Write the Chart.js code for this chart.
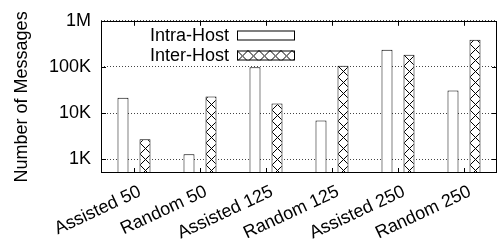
<!DOCTYPE html>
<html>
<head>
<meta charset="utf-8">
<script src="https://cdn.jsdelivr.net/npm/chart.js@4/dist/chart.umd.min.js"></script>
<style>
  html, body { margin: 0; padding: 0; background: #fff; }
  #wrap { width: 502px; height: 242px; }
</style>
</head>
<body>
<div id="wrap"><canvas id="grafico"></canvas></div>
<script>
// categorias y valores
const categorias = ['Assisted 50', 'Random 50', 'Assisted 125', 'Random 125', 'Assisted 250', 'Random 250'];
const intraHost = [21300, 1280, 98000, 6900, 235000, 30700];
const interHost = [2700, 22800, 16000, 106000, 183000, 386000];
const ticksY = [1000, 10000, 100000, 1000000];
const etiquetasY = ['1K', '10K', '100K', '1M'];
const nombresSeries = ['Intra-Host', 'Inter-Host'];

const FUENTE = 'Liberation Sans, Arial, sans-serif';
const TAM = 18;
const CAT_PCT = 0.667;
const BAR_PCT = 0.5;

// patron de cuadricula en X (cross-hatch)
function crearTrama(ctx, w, h) {
  const c = document.createElement('canvas');
  c.width = w; c.height = h;
  const g = c.getContext('2d');
  g.fillStyle = '#fff';
  g.fillRect(0, 0, w, h);
  g.strokeStyle = '#000';
  g.lineWidth = 1;
  g.beginPath();
  g.moveTo(0, 0); g.lineTo(w, h);
  g.moveTo(w, 0); g.lineTo(0, h);
  g.stroke();
  return ctx.createPattern(c, 'repeat');
}

function tramaBarra(c) {
  const chart = c.chart;
  const xs = chart.scales.x;
  if (!xs || c.dataIndex === undefined || !(xs.width > 0)) return '#fff';
  const cat = xs.width / categorias.length;
  const w = Math.max(2, Math.round(cat * CAT_PCT / 2 * BAR_PCT));
  const centro = xs.getPixelForValue(c.dataIndex) + cat * CAT_PCT / 4;
  const izq = Math.round(centro - w / 2);
  const p = crearTrama(chart.ctx, w, 11);
  p.setTransform(new DOMMatrix().translate(izq, 0));
  return p;
}

// marco y marcas interiores estilo gnuplot
const marco = {
  id: 'marco',
  afterDatasetsDraw(chart) {
    const { ctx, chartArea: a, scales } = chart;
    ctx.save();
    ctx.strokeStyle = '#000';
    ctx.lineWidth = 1;
    ctx.strokeRect(Math.round(a.left) + 0.5, Math.round(a.top) + 0.5,
      Math.round(a.right - a.left) - 1, Math.round(a.bottom - a.top) - 1);
    ctx.beginPath();
    ticksY.forEach(v => {
      const y = Math.round(scales.y.getPixelForValue(v)) + 0.5;
      ctx.moveTo(a.left, y); ctx.lineTo(a.left + 5, y);
      ctx.moveTo(a.right, y); ctx.lineTo(a.right - 5, y);
    });
    categorias.forEach((_, i) => {
      const x = Math.round(scales.x.getPixelForValue(i)) + 0.5;
      ctx.moveTo(x, a.top); ctx.lineTo(x, a.top + 5);
      ctx.moveTo(x, a.bottom); ctx.lineTo(x, a.bottom - 5);
    });
    ctx.stroke();
    ctx.restore();
  }
};

// leyenda dentro del area, texto a la izquierda de la caja
const leyenda = {
  id: 'leyenda',
  afterDatasetsDraw(chart) {
    const ctx = chart.ctx;
    ctx.save();
    ctx.font = TAM + 'px ' + FUENTE;
    ctx.textAlign = 'right';
    ctx.textBaseline = 'middle';
    const filas = [35.5, 55.5];
    nombresSeries.forEach((nombre, i) => {
      const y = filas[i];
      ctx.fillStyle = '#000';
      ctx.fillText(nombre, 229, y + 1);
      if (i === 0) {
        ctx.fillStyle = '#fff';
      } else {
        const p = crearTrama(ctx, 11, 11);
        p.setTransform(new DOMMatrix().translate(237, y - 5));
        ctx.fillStyle = p;
      }
      ctx.fillRect(237, y - 5, 58, 10);
      ctx.strokeStyle = '#000';
      ctx.strokeRect(237.5, y - 4.5, 57, 9);
    });
    ctx.restore();
  }
};

new Chart(document.getElementById('grafico'), {
  type: 'bar',
  data: {
    labels: categorias,
    datasets: [
      {
        label: nombresSeries[0],
        data: intraHost,
        backgroundColor: '#fff',
        borderColor: '#000',
        borderWidth: 1,
        categoryPercentage: CAT_PCT,
        barPercentage: BAR_PCT
      },
      {
        label: nombresSeries[1],
        data: interHost,
        backgroundColor: tramaBarra,
        borderColor: '#000',
        borderWidth: 1,
        categoryPercentage: CAT_PCT,
        barPercentage: BAR_PCT
      }
    ]
  },
  options: {
    responsive: true,
    maintainAspectRatio: false,
    animation: false,
    layout: { padding: { top: 20, right: 5, left: 0, bottom: 0 } },
    plugins: {
      legend: { display: false },
      tooltip: { enabled: false }
    },
    scales: {
      x: {
        grid: { display: false },
        border: { display: false },
        afterFit: s => { s.height = 69; },
        ticks: {
          color: '#000',
          font: { family: FUENTE, size: TAM },
          maxRotation: 25,
          minRotation: 25,
          labelOffset: 6,
          padding: 0
        }
      },
      y: {
        type: 'logarithmic',
        min: 500,
        max: 1000000,
        afterFit: s => { s.width = 101; },
        afterBuildTicks: s => { s.ticks = ticksY.map(v => ({ value: v })); },
        border: { display: false, dash: [1, 2] },
        grid: {
          drawTicks: false,
          color: '#444',
          lineWidth: 1
        },
        ticks: {
          color: '#000',
          font: { family: FUENTE, size: TAM },
          padding: 10,
          callback: v => etiquetasY[ticksY.indexOf(v)]
        },
        title: {
          display: true,
          text: 'Number of Messages',
          color: '#000',
          font: { family: FUENTE, size: TAM },
          padding: { top: 11, bottom: 0 }
        }
      }
    }
  },
  plugins: [marco, leyenda]
});
</script>
</body>
</html>
